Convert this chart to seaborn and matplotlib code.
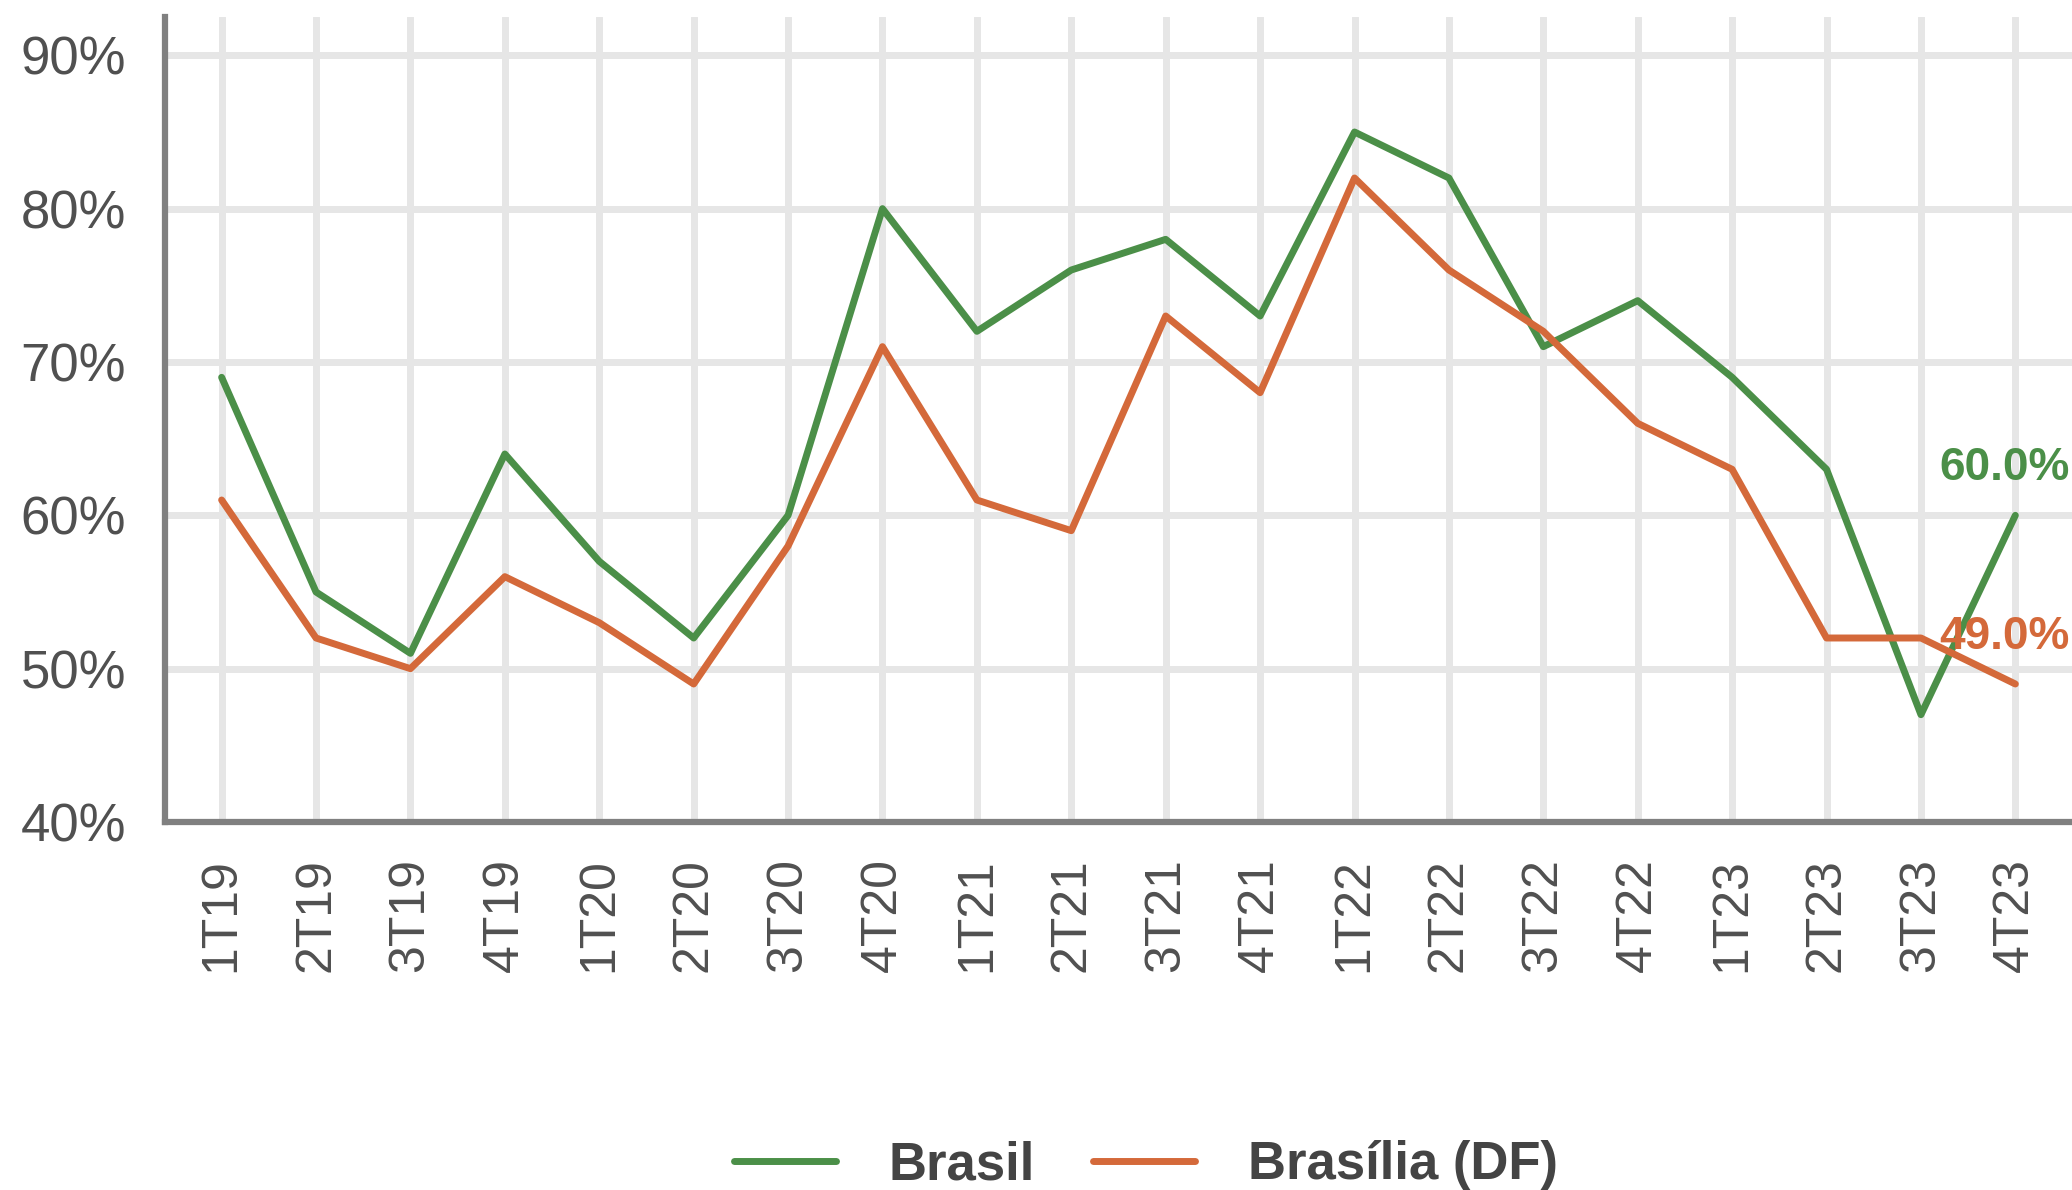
import pandas as pd
import matplotlib.pyplot as plt
import seaborn as sns
from matplotlib.ticker import FuncFormatter

# Data
quarters = ['1T19', '2T19', '3T19', '4T19', '1T20', '2T20', '3T20', '4T20',
            '1T21', '2T21', '3T21', '4T21', '1T22', '2T22', '3T22', '4T22',
            '1T23', '2T23', '3T23', '4T23']
brasil = [69, 55, 51, 64, 57, 52, 60, 80, 72, 76, 78, 73, 85, 82, 71, 74, 69, 63, 47, 60]
brasilia = [61, 52, 50, 56, 53, 49, 58, 71, 61, 59, 73, 68, 82, 76, 72, 66, 63, 52, 52, 49]
series_names = ['Brasil', 'Brasília (DF)']
colors = ['#4b8f48', '#d4693a']

df = pd.DataFrame({
    'Trimestre': quarters * 2,
    'Valor': brasil + brasilia,
    'Serie': [series_names[0]] * len(quarters) + [series_names[1]] * len(quarters),
})
df['pos'] = df['Trimestre'].map({q: i for i, q in enumerate(quarters)})

sns.set_style('white')
plt.rcParams['font.family'] = ['Liberation Sans', 'DejaVu Sans']

fig = plt.figure(figsize=(20.72, 11.9), dpi=100)
ax = fig.add_axes([165 / 2072, 1 - 822 / 1190, (2072 - 165) / 2072, (822 - 17) / 1190])

# gridlines
ax.set_axisbelow(True)
ax.grid(True, color='#e6e6e6', linewidth=5)

sns.lineplot(data=df, x='pos', y='Valor', hue='Serie', palette=colors,
             linewidth=5, ax=ax, legend=False, sort=False)

ax.set_xlim(-0.6, 19.6)
ax.set_ylim(40, 92.5)
ax.set_yticks([40, 50, 60, 70, 80, 90])
ax.yaxis.set_major_formatter(FuncFormatter(lambda v, p: f'{v:.0f}%'))
ax.set_xticks(range(len(quarters)))
ax.set_xticklabels(quarters, rotation=90)
ax.tick_params(axis='y', length=0, pad=28, labelsize=38, labelcolor='#505050')
ax.tick_params(axis='x', length=0, pad=26, labelsize=36, labelcolor='#505050')
ax.set_xlabel('')
ax.set_ylabel('')

for side in ['top', 'right']:
    ax.spines[side].set_visible(False)
for side in ['left', 'bottom']:
    ax.spines[side].set_color('#808080')
    ax.spines[side].set_linewidth(4.5)

# end labels
last = len(quarters) - 1
for vals, c in zip([brasil, brasilia], colors):
    ax.annotate(f'{vals[-1]:.1f}%', xy=(last, vals[-1]), xytext=(-8, 34),
                textcoords='offset points', ha='center', va='center',
                fontsize=33, fontweight='bold', color=c, annotation_clip=False)

# legend
handles = [plt.Line2D([], [], color=c, linewidth=5) for c in colors]
leg = fig.legend(handles, series_names, loc='lower center',
                 bbox_to_anchor=(0.553, -0.04), ncol=2, frameon=False,
                 handlelength=1.93, handletextpad=1.0, columnspacing=1.1,
                 prop={'size': 38, 'weight': 'bold'})
for t in leg.get_texts():
    t.set_color('#444444')

fig.savefig('out.png', dpi=100)
